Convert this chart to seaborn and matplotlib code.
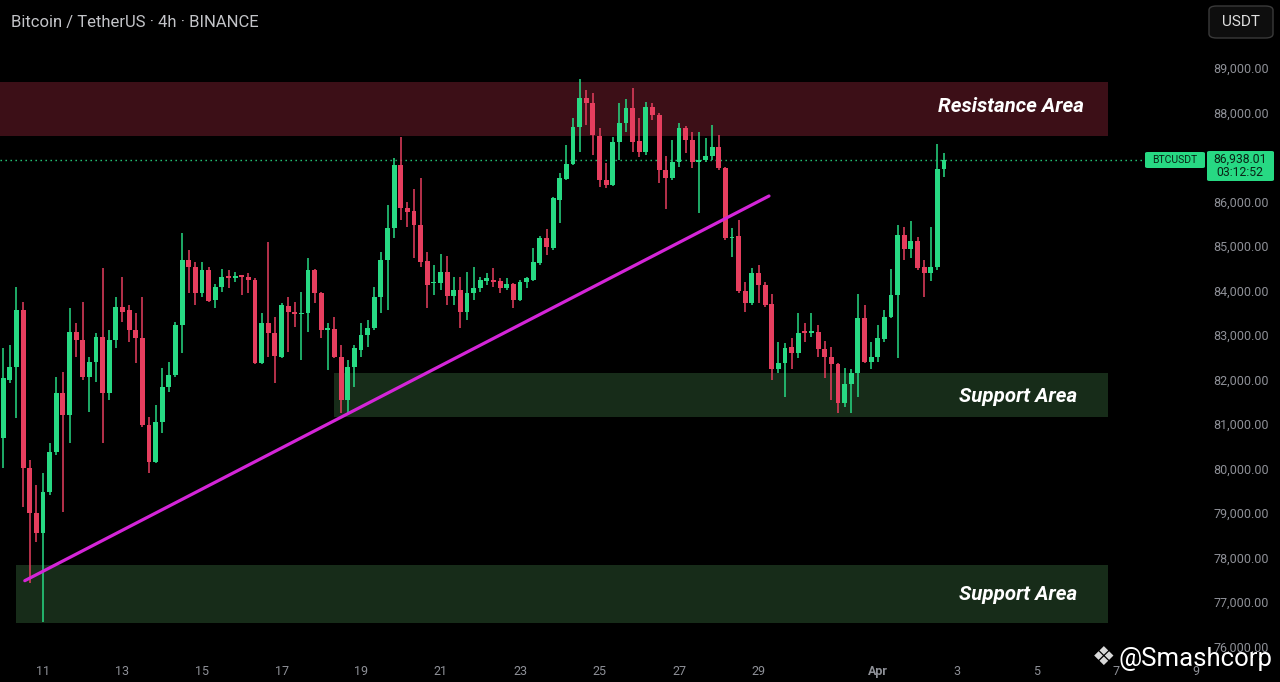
import numpy as np
import pandas as pd
import matplotlib
matplotlib.use("Agg")
import matplotlib.pyplot as plt
import matplotlib.dates as mdates
from matplotlib.patches import Rectangle, FancyBboxPatch
import seaborn as sns

# ---------------- data ----------------
start_time = "2025-03-10 00:00"
opens = [80690, 81990, 82280, 83560, 80010, 79000, 78550, 79470, 80370, 81700,
         81200, 83070, 82890, 82060, 82390, 82960, 81700, 82890, 83630, 83560,
         83110, 82930, 80980, 80150, 81050, 81830, 82100, 83230, 84690, 84530,
         83940, 84460, 83790, 84080, 84330, 84280, 84350, 84300, 84240, 82370,
         83270, 83050, 82510, 83650, 83520, 83470, 83500, 84460, 83940, 83110,
         83140, 82510, 81540, 82280, 82660, 83000, 83160, 83850, 84690, 85410,
         86820, 85850, 85790, 85470, 84660, 84170, 84170, 84420, 83880, 84010,
         83520, 83940, 84060, 84210, 84240, 84210, 84060, 84150, 83790, 84190,
         84240, 84620, 85180, 84960, 86030, 86510, 86840, 87670, 88330, 88210,
         87470, 86480, 86370, 87340, 87760, 88100, 87360, 87110, 88120, 87940,
         86710, 86530, 86890, 87650, 87380, 86890, 86930, 87020, 87230, 86750,
         85180, 85220, 83990, 83720, 84390, 84120, 83700, 82240, 82370, 82730,
         82600, 83090, 83050, 83070, 82690, 82510, 82350, 81470, 81900, 82150,
         83380, 82390, 82510, 82910, 83410, 83900, 85250, 84930, 85110, 84530,
         84390, 84530, 86730]
highs = [82710, 82780, 84080, 83740, 80190, 79630, 79900, 80570, 82060, 82170,
         83610, 83270, 83740, 82510, 83040, 84510, 83110, 83850, 84300, 83670,
         83490, 83850, 81160, 81430, 82260, 82390, 83290, 85290, 84910, 84640,
         84640, 84530, 84150, 84480, 84460, 84420, 84350, 84390, 84280, 83490,
         85090, 83410, 83720, 83850, 83740, 83970, 84730, 84480, 83970, 83270,
         83410, 82780, 82440, 82780, 83270, 83340, 84080, 84870, 85920, 86980,
         87450, 85990, 86280, 86530, 84870, 84570, 84820, 84780, 84300, 84300,
         84420, 84530, 84300, 84390, 84510, 84280, 84280, 84170, 84240, 84300,
         84960, 85230, 85380, 86100, 86640, 87270, 87880, 88750, 88500, 88440,
         87650, 86870, 87450, 88210, 88300, 88550, 87880, 88240, 88210, 87990,
         87020, 87380, 87760, 87700, 87560, 87560, 87430, 87720, 87500, 86780,
         85410, 85590, 84190, 84510, 84570, 84190, 83920, 82840, 82820, 82930,
         83490, 83270, 83490, 83230, 82870, 82730, 82370, 82260, 82240, 83920,
         83670, 82840, 83230, 83560, 84480, 85470, 85430, 85560, 85200, 84690,
         85430, 87290, 87090]
lows = [80010, 81920, 81140, 79140, 77430, 78350, 76550, 79400, 80300, 79020,
        80570, 82510, 82000, 81270, 81940, 80570, 81540, 82710, 83290, 82840,
        82370, 80930, 79900, 80120, 80800, 81720, 82060, 82600, 83940, 83680,
        83850, 83740, 83610, 83970, 84060, 84190, 83900, 83940, 82350, 82350,
        82510, 81920, 82480, 82620, 83180, 82440, 83070, 83720, 82930, 82210,
        82480, 81250, 81250, 81830, 82510, 82730, 83110, 83500, 83560, 85180,
        85590, 85430, 84730, 84530, 83610, 83900, 84010, 83680, 83680, 83160,
        83340, 83790, 83970, 84120, 84080, 83940, 84010, 83610, 83770, 84060,
        84210, 84570, 84800, 84910, 85520, 86480, 86820, 87110, 87720, 87050,
        86330, 86300, 86350, 86930, 87560, 87110, 87000, 87050, 87830, 86420,
        85830, 86480, 86780, 87090, 86750, 85740, 86890, 86930, 86710, 85140,
        84750, 83940, 83520, 83680, 83720, 83630, 81990, 82150, 81610, 82240,
        82480, 82840, 82960, 82510, 82030, 81540, 81250, 81380, 81250, 81610,
        82370, 82240, 82390, 82840, 83380, 82480, 84690, 84730, 84460, 83850,
        84210, 84460, 86550]
closes = [82030, 82280, 83560, 80010, 79000, 78550, 79470, 80370, 81700, 81200,
          83070, 82890, 82060, 82390, 82960, 81700, 82890, 83630, 83520, 83110,
          82930, 80980, 80150, 81050, 81830, 82100, 83230, 84690, 84530, 83940,
          84460, 83770, 84080, 84300, 84280, 84330, 84300, 84240, 82370, 83270,
          83050, 82530, 83680, 83520, 83470, 83500, 84460, 83940, 83110, 83160,
          82510, 81540, 82280, 82710, 83000, 83160, 83850, 84690, 85410, 86820,
          85850, 85760, 85470, 84640, 84120, 84190, 84420, 83880, 84010, 83520,
          83940, 84060, 84240, 84280, 84190, 84060, 84150, 83790, 84190, 84280,
          84640, 85180, 84980, 86080, 86530, 86840, 87670, 88330, 88210, 87490,
          86480, 86370, 87340, 87760, 88100, 87340, 87110, 88120, 87940, 86710,
          86530, 86890, 87650, 87380, 86890, 86930, 87020, 87230, 86750, 85180,
          85200, 83990, 83720, 84390, 84120, 83680, 82240, 82370, 82710, 82600,
          83050, 83050, 83090, 82690, 82510, 82350, 81470, 81900, 82150, 83380,
          82390, 82510, 82930, 83410, 83900, 85250, 84930, 85110, 84510, 84390,
          84530, 86730, 86938]

last_price = 86938.01
countdown = "03:12:52"
symbol = "BTCUSDT"
title = "Bitcoin / TetherUS \u00b7 4h \u00b7 BINANCE"

# zones: (label, start, end, low, high)
zone_names = ["Resistance Area", "Support Area", "Support Area"]
zone_starts = ["2025-03-09 22:00", "2025-03-18 08:00", "2025-03-10 08:00"]
zone_ends = ["2025-04-06 19:00", "2025-04-06 19:00", "2025-04-06 19:00"]
zone_lows = [87480, 81155, 76520]
zone_highs = [88690, 82140, 77840]

trend_times = ["2025-03-10 13:00", "2025-03-29 06:20"]
trend_prices = [77480, 86124]

price_ticks = [76000, 77000, 78000, 79000, 80000, 81000, 82000,
               83000, 84000, 85000, 86000, 88000, 89000]
date_ticks = ["2025-03-11", "2025-03-13", "2025-03-15", "2025-03-17", "2025-03-19",
              "2025-03-21", "2025-03-23", "2025-03-25", "2025-03-27", "2025-03-29",
              "2025-04-01", "2025-04-03", "2025-04-05", "2025-04-07", "2025-04-09"]
date_labels = ["11", "13", "15", "17", "19", "21", "23", "25", "27", "29",
               "Apr", "3", "5", "7", "9"]

# ---------------- style ----------------
GREEN = "#27d983"
RED = "#e63e5e"
BG = "#000000"
TXT = "#8e9097"

sns.set_theme(style="dark", rc={"axes.facecolor": BG, "figure.facecolor": BG,
                                "axes.grid": False})
plt.rcParams["font.family"] = ["Roboto", "DejaVu Sans"]

W, H = 1280, 682
fig = plt.figure(figsize=(W / 100, H / 100), dpi=100)
ax = fig.add_axes([0, 1 - 655 / H, 1205 / W, 655 / H])
ax.set_facecolor(BG)
for s in ax.spines.values():
    s.set_visible(False)

def fx(px):
    return px / W

def fy(py):
    return 1 - py / H

df = pd.DataFrame({"time": pd.date_range(start_time, periods=len(opens), freq="4h"),
                   "open": opens, "high": highs, "low": lows, "close": closes})
df["t"] = mdates.date2num(df["time"])
df["up"] = df["close"] >= df["open"]
df["color"] = np.where(df["up"], GREEN, RED)
body_lo = np.minimum(df["open"], df["close"])
body_h = np.maximum(np.abs(df["close"] - df["open"]), 25)

# zones
for nm, s0, e0, lo, hi, col in zip(zone_names, zone_starts, zone_ends, zone_lows, zone_highs,
                                    ["#3c0f17", "#172c19", "#172c19"]):
    t0 = mdates.date2num(pd.Timestamp(s0))
    t1 = mdates.date2num(pd.Timestamp(e0))
    ax.add_patch(Rectangle((t0, lo), t1 - t0, hi - lo, facecolor=col, edgecolor="none", zorder=1))

# candles
ax.vlines(df["t"], df["low"], df["high"], colors=df["color"], linewidth=1.1, zorder=3)
ax.bar(df["t"], body_h, bottom=body_lo, width=0.12, color=df["color"], linewidth=0, zorder=4)

# trend line
tl = pd.DataFrame({"t": mdates.date2num(pd.to_datetime(trend_times)), "p": trend_prices})
sns.lineplot(data=tl, x="t", y="p", ax=ax, color="#d425d8", linewidth=2.3, zorder=5)

# last price dotted line
ax.axhline(last_price, xmin=0, xmax=1143 / 1205, color=GREEN, linestyle=(0, (1, 2.6)),
           linewidth=1.0, zorder=2)

# limits
x0 = mdates.date2num(pd.Timestamp("2025-03-11")) - 43 / 39.75
x1 = mdates.date2num(pd.Timestamp("2025-03-11")) + (1205 - 43) / 39.75
ax.set_xlim(x0, x1)
ax.set_ylim(90528 - 22.47 * 655, 90528)
ax.set_xlabel("")
ax.set_ylabel("")

ax.set_xticks(mdates.date2num(pd.to_datetime(date_ticks)))
ax.set_xticklabels(date_labels)
ax.set_yticks(price_ticks)
ax.set_yticklabels([f"{v:,.2f}" for v in price_ticks])
ax.yaxis.tick_right()
ax.tick_params(axis="x", length=0, pad=7, colors=TXT, labelsize=9)
ax.tick_params(axis="y", length=0, pad=6, colors=TXT, labelsize=9)
for lab in ax.get_xticklabels():
    if lab.get_text() == "Apr":
        lab.set_fontweight("bold")

# zone labels
for nm, cx, py in zip(zone_names, [1011, 1018, 1018], [107, 396, 595]):
    fig.text(fx(cx), fy(py), nm, ha="center", va="center", color="white",
             fontsize=14.8, fontweight="bold", fontstyle="italic", zorder=10)

# title
fig.text(fx(11), fy(23), title, ha="left", va="center", color="#c3c4c8", fontsize=12)

# USDT button
fig.patches.append(FancyBboxPatch((fx(1209), fy(38)), fx(1273) - fx(1209), fy(6) - fy(38),
                                  boxstyle="round,pad=0,rounding_size=0.006",
                                  transform=fig.transFigure, facecolor="#0e0e0e",
                                  edgecolor="#3a3a3a", linewidth=1.0, zorder=8))
fig.text(fx(1241), fy(22), "USDT", ha="center", va="center", color="#e0e0e0",
         fontsize=11, zorder=9)

# price labels
fig.patches.append(FancyBboxPatch((fx(1145), fy(168)), fx(1205) - fx(1145), fy(152) - fy(168),
                                  boxstyle="round,pad=0,rounding_size=0.002",
                                  transform=fig.transFigure, facecolor=GREEN,
                                  edgecolor="none", zorder=8))
fig.text(fx(1175), fy(160), symbol, ha="center", va="center", color="#0a2416",
         fontsize=7.5, zorder=9)
fig.patches.append(FancyBboxPatch((fx(1207), fy(181)), fx(1274) - fx(1207), fy(151) - fy(181),
                                  boxstyle="round,pad=0,rounding_size=0.002",
                                  transform=fig.transFigure, facecolor=GREEN,
                                  edgecolor="none", zorder=8))
fig.text(fx(1240), fy(159), f"{last_price:,.2f}", ha="center", va="center", color="#0a2416",
         fontsize=8.8, zorder=9)
fig.text(fx(1240), fy(172), countdown, ha="center", va="center", color="#0a2416",
         fontsize=8.8, zorder=9)

# watermark
fig.text(fx(1104), fy(658), "\u2756", ha="center", va="center", color="#d8d8d8",
         fontsize=19, family=["DejaVu Sans"], zorder=10)
fig.text(fx(1119), fy(659), "@Smashcorp", ha="left", va="center", color="white",
         fontsize=18.5, zorder=10)

fig.savefig("out.png", dpi=100, facecolor=BG)
